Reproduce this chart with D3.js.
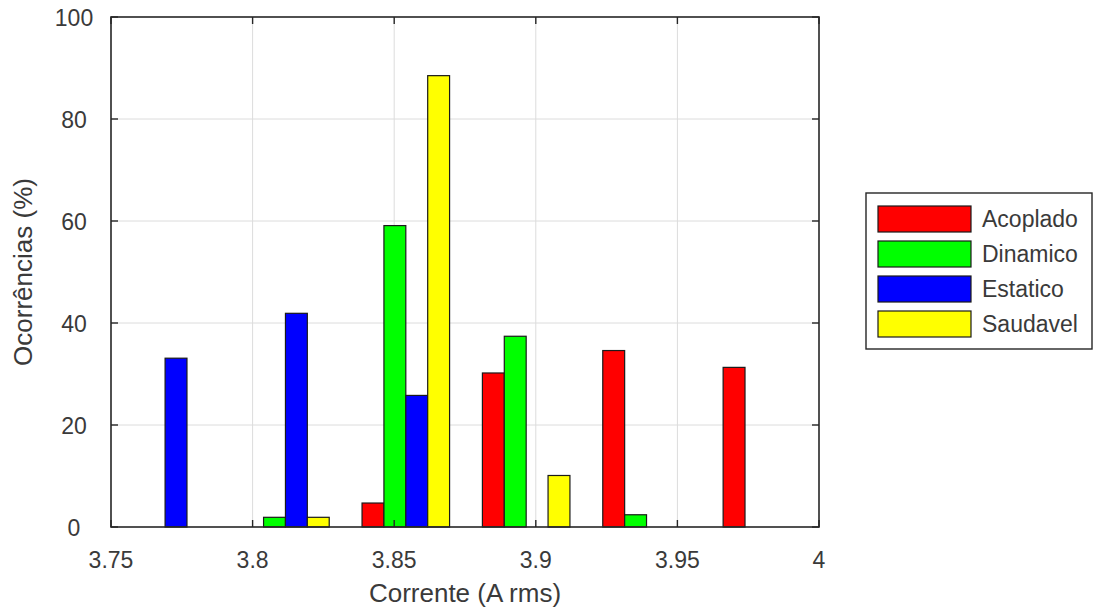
<!DOCTYPE html>
<html>
<head>
<meta charset="utf-8">
<script src="https://cdn.jsdelivr.net/npm/d3@7"></script>
<style>
  html, body { margin: 0; padding: 0; background: #fff; }
  svg { display: block; font-family: "Liberation Sans", Arial, sans-serif; }
</style>
</head>
<body>
<svg id="chart" width="1094" height="613"></svg>
<script>
// Bin centres of the current histogram (A rms)
const binCenters = [3.7691, 3.8116, 3.8541, 3.8966, 3.9391, 3.9816];

// Occurrence percentages per condition, one value per bin
const seriesNames = ["Acoplado", "Dinamico", "Estatico", "Saudavel"];
const acoplado = [0, 0, 4.7, 30.2, 34.6, 31.3];
const dinamico = [0, 1.9, 59.1, 37.4, 2.4, 0];
const estatico = [33.1, 41.9, 25.8, 0, 0, 0];
const saudavel = [0, 1.9, 88.5, 10.1, 0, 0];
const seriesColors = ["#ff0000", "#00ff00", "#0000ff", "#ffff00"];

// Axis ticks
const xTicks = [3.75, 3.8, 3.85, 3.9, 3.95, 4];
const xTickLabels = ["3.75", "3.8", "3.85", "3.9", "3.95", "4"];
const yTicks = [0, 20, 40, 60, 80, 100];

const seriesValues = [acoplado, dinamico, estatico, saudavel];

const svg = d3.select("#chart");
const plot = { left: 111, right: 819, top: 17, bottom: 527 };

const x = d3.scaleLinear().domain([3.75, 4]).range([plot.left, plot.right]);
const y = d3.scaleLinear().domain([0, 100]).range([plot.bottom, plot.top]);

const axisColor = "#262626";
const gridColor = "#dcdcdc";

// grid
const grid = svg.append("g");
grid.selectAll("line.gx").data(xTicks.slice(1, -1)).join("line")
  .attr("x1", d => x(d)).attr("x2", d => x(d))
  .attr("y1", plot.top).attr("y2", plot.bottom)
  .attr("stroke", gridColor).attr("stroke-width", 1);
grid.selectAll("line.gy").data(yTicks.slice(1, -1)).join("line")
  .attr("y1", d => y(d)).attr("y2", d => y(d))
  .attr("x1", plot.left).attr("x2", plot.right)
  .attr("stroke", gridColor).attr("stroke-width", 1);

// grouped bars: MATLAB style group width = n/(n+1.5) of bin spacing
const spacing = binCenters[1] - binCenters[0];
const nSeries = seriesValues.length;
const groupWidth = Math.min(0.8, nSeries / (nSeries + 1.5)) * spacing;
const barW = groupWidth / nSeries;

const bars = svg.append("g");
seriesValues.forEach((vals, si) => {
  bars.append("g").selectAll("rect").data(vals.map((v, i) => ({ v, c: binCenters[i] })))
    .join("rect")
    .attr("x", d => x(d.c - groupWidth / 2 + si * barW))
    .attr("width", x(3.75 + barW) - x(3.75))
    .attr("y", d => y(d.v))
    .attr("height", d => y(0) - y(d.v))
    .attr("fill", seriesColors[si])
    .attr("stroke", d => d.v === 0 ? "#555" : "#1a1a1a")
    .attr("stroke-width", 1.2);
});

// axes box and ticks
const axes = svg.append("g");
axes.append("rect")
  .attr("x", plot.left).attr("y", plot.top)
  .attr("width", plot.right - plot.left).attr("height", plot.bottom - plot.top)
  .attr("fill", "none").attr("stroke", axisColor).attr("stroke-width", 1.6);

const tickLen = 7;
xTicks.forEach(t => {
  axes.append("line").attr("x1", x(t)).attr("x2", x(t))
    .attr("y1", plot.bottom).attr("y2", plot.bottom - tickLen)
    .attr("stroke", axisColor).attr("stroke-width", 1.4);
  axes.append("line").attr("x1", x(t)).attr("x2", x(t))
    .attr("y1", plot.top).attr("y2", plot.top + tickLen)
    .attr("stroke", axisColor).attr("stroke-width", 1.4);
});
yTicks.forEach(t => {
  axes.append("line").attr("y1", y(t)).attr("y2", y(t))
    .attr("x1", plot.left).attr("x2", plot.left + tickLen)
    .attr("stroke", axisColor).attr("stroke-width", 1.4);
  axes.append("line").attr("y1", y(t)).attr("y2", y(t))
    .attr("x1", plot.right).attr("x2", plot.right - tickLen)
    .attr("stroke", axisColor).attr("stroke-width", 1.4);
});

// tick labels
const labelColor = "#3a3a3a";
svg.append("g").selectAll("text").data(xTicks).join("text")
  .attr("x", d => x(d)).attr("y", 568)
  .attr("text-anchor", "middle")
  .attr("font-size", 23).attr("fill", labelColor)
  .text((d, i) => xTickLabels[i]);

svg.append("g").selectAll("text").data(yTicks).join("text")
  .attr("x", 74).attr("y", d => y(d) + 8.5)
  .attr("text-anchor", "middle")
  .attr("font-size", 23).attr("fill", labelColor)
  .text(d => d);

// axis titles
svg.append("text")
  .attr("x", (plot.left + plot.right) / 2).attr("y", 602)
  .attr("text-anchor", "middle").attr("font-size", 26).attr("fill", labelColor)
  .text("Corrente (A rms)");

svg.append("text")
  .attr("transform", `translate(32, ${(plot.top + plot.bottom) / 2}) rotate(-90)`)
  .attr("text-anchor", "middle").attr("font-size", 26).attr("fill", labelColor)
  .text("Ocorrências (%)");

// legend
const legend = svg.append("g");
legend.append("rect")
  .attr("x", 866).attr("y", 193).attr("width", 226).attr("height", 156)
  .attr("fill", "#fff").attr("stroke", axisColor).attr("stroke-width", 1.4);
seriesNames.forEach((name, i) => {
  const cy = 219 + i * 35;
  legend.append("rect")
    .attr("x", 878).attr("y", cy - 13).attr("width", 93).attr("height", 26)
    .attr("fill", seriesColors[i]).attr("stroke", "#1a1a1a").attr("stroke-width", 1.2);
  legend.append("text")
    .attr("x", 982).attr("y", cy + 8)
    .attr("font-size", 23).attr("fill", labelColor)
    .text(name);
});
</script>
</body>
</html>
